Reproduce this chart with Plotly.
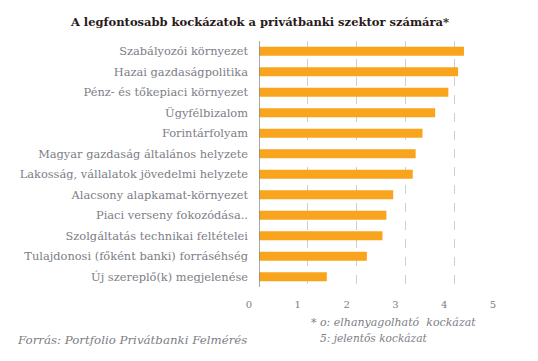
import plotly.graph_objects as go

categories = [
    "Szabályozói környezet",
    "Hazai gazdaságpolitika",
    "Pénz- és tőkepiaci környezet",
    "Ügyfélbizalom",
    "Forintárfolyam",
    "Magyar gazdaság általános helyzete",
    "Lakosság, vállalatok jövedelmi helyzete",
    "Alacsony alapkamat-környezet",
    "Piaci verseny fokozódása..",
    "Szolgáltatás technikai feltételei",
    "Tulajdonosi (főként banki) forráséhség",
    "Új szereplő(k) megjelenése",
]
values = [4.20, 4.08, 3.88, 3.61, 3.35, 3.21, 3.15, 2.75, 2.61, 2.53, 2.21, 1.39]
tick_vals = [0, 1, 2, 3, 4, 5]
tick_text = ["0", "1", "2", "3", "4", "5"]

title_text = "A legfontosabb kockázatok a privátbanki szektor számára*"
source_text = "Forrás: Portfolio Privátbanki Felmérés"
note_lines = ["* o: elhanyagolható  kockázat", "5: jelentős kockázat"]

FONT = "DejaVu Serif"
GRAY = "#7d7d86"

W, H = 530, 353
L, R, T, B = 245, 34, 33, 74
PW, PH = W - L - R, H - T - B

fig = go.Figure(
    go.Bar(
        x=values,
        y=categories,
        orientation="h",
        marker=dict(color="#F8A51D", line=dict(width=0)),
        width=0.44,
    )
)

fig.update_layout(
    width=W,
    height=H,
    margin=dict(l=L, r=R, t=T, b=B),
    paper_bgcolor="white",
    plot_bgcolor="white",
    showlegend=False,
    font=dict(family=FONT, color=GRAY, size=11),
    title=dict(
        text="<b>" + title_text + "</b>",
        x=252 / W,
        xanchor="center",
        y=1 - 14 / H,
        yanchor="middle",
        font=dict(family=FONT, size=11.5, color="#2a1a1a"),
    ),
)

fig.update_xaxes(
    range=[0, 5.02],
    tickvals=tick_vals,
    ticktext=tick_text,
    showgrid=True,
    gridcolor="#cfcfcf",
    griddash="dash",
    gridwidth=1,
    zeroline=False,
    showline=False,
    ticks="",
    tickfont=dict(family=FONT, size=10, color=GRAY),
    ticklabelstandoff=10,
    ticklabelshift=-10,
)
fig.update_yaxes(
    autorange="reversed",
    showgrid=False,
    zeroline=False,
    showline=False,
    ticks="",
    ticklabelstandoff=10,
    tickfont=dict(family=FONT, size=11.4, color=GRAY),
)

# left axis line
fig.add_shape(
    type="line", xref="x", yref="paper", x0=0, x1=0, y0=0, y1=1,
    line=dict(color="#8c8c8c", width=1.5), layer="above",
)

fig.add_annotation(
    text="<i>" + source_text + "</i>", xref="paper", yref="paper",
    x=0, xshift=-(L - 1), y=-53 / PH, xanchor="left", yanchor="middle",
    showarrow=False, font=dict(family=FONT, size=11.8, color=GRAY),
)
fig.add_annotation(
    text="<i>" + note_lines[0] + "</i>", xref="paper", yref="paper",
    x=0, xshift=50, y=-35 / PH, xanchor="left", yanchor="middle",
    showarrow=False, font=dict(family=FONT, size=11, color=GRAY),
)
fig.add_annotation(
    text="<i>" + note_lines[1] + "</i>", xref="paper", yref="paper",
    x=0, xshift=59, y=-51 / PH, xanchor="left", yanchor="middle",
    showarrow=False, font=dict(family=FONT, size=10.6, color=GRAY),
)

fig.write_html("out.html")
